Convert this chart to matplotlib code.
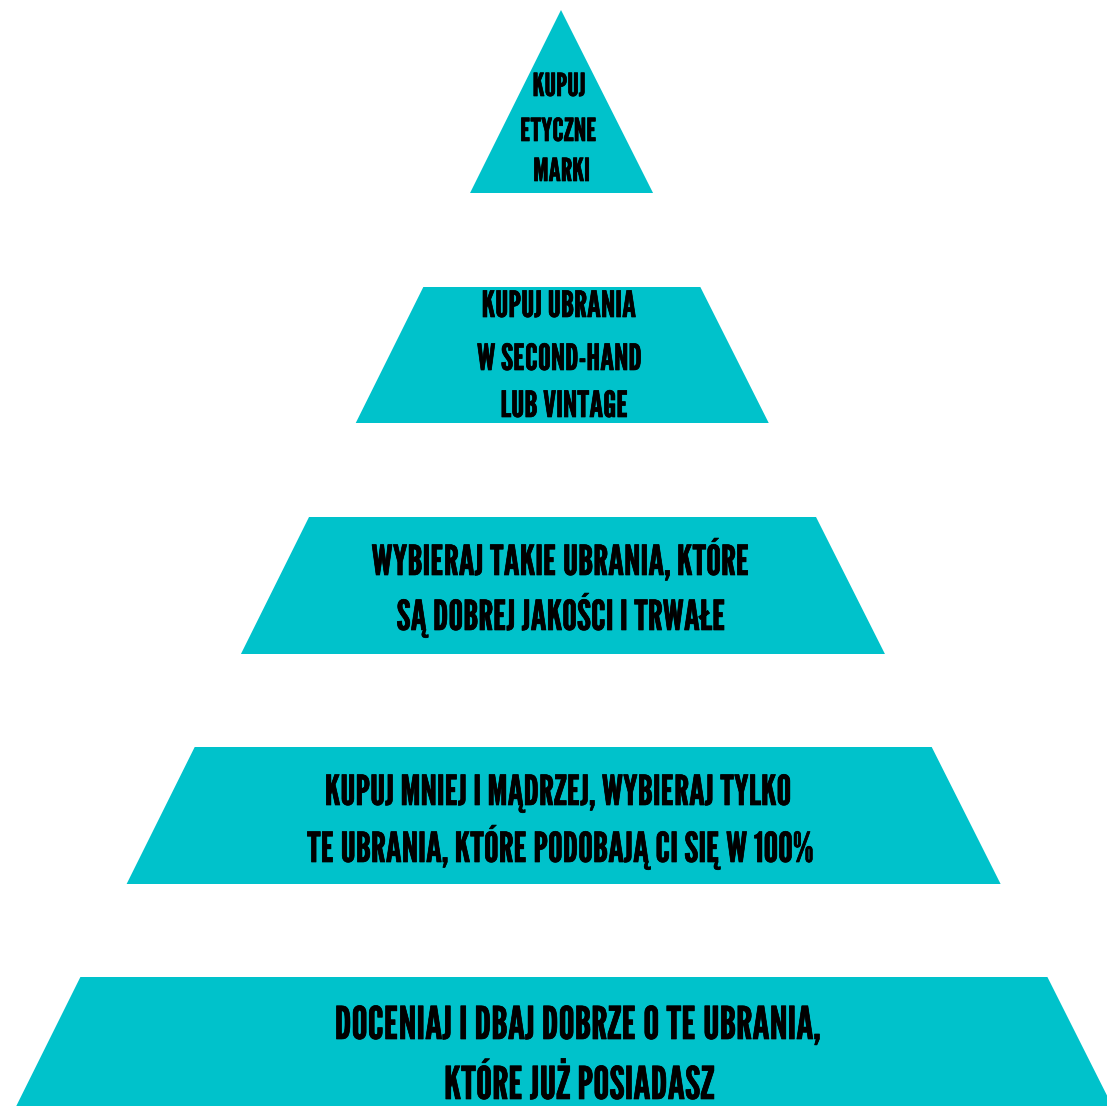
import matplotlib
matplotlib.use("Agg")
import matplotlib.pyplot as plt
from matplotlib.patches import Polygon
import matplotlib.patheffects as pe

# ---- data: pyramid levels (top to bottom), each with its text lines ----
level_lines = [
    ["KUPUJ", "ETYCZNE", "MARKI"],
    ["KUPUJ UBRANIA", "W SECOND-HAND", "LUB VINTAGE"],
    ["WYBIERAJ TAKIE UBRANIA, KTÓRE", "SĄ DOBREJ JAKOŚCI I TRWAŁE"],
    ["KUPUJ MNIEJ I MĄDRZEJ, WYBIERAJ TYLKO", "TE UBRANIA, KTÓRE PODOBAJĄ CI SIĘ W 100%"],
    ["DOCENIAJ I DBAJ DOBRZE O TE UBRANIA,", "KTÓRE JUŻ POSIADASZ"],
]

# ---- layout (pixels, figure coordinates from the top-left) ----
level_top = [10, 287, 517, 747, 977]
level_bottom = [193, 423, 654, 884, 1112]
line_baselines = [[96, 141, 181], [317, 370, 417], [575, 630], [805, 862], [1039, 1099]]
line_centers_x = [[559, 558.5, 561.5], [559, 559.5, 564.5], [560, 561], [557.5, 560], [577, 579]]
level_fontsize = [22.8, 26.0, 29.8, 29.8, 32.5]

apex_x, apex_y = 561, 10
slope_left, slope_right = 0.497, 0.503
color = "#00C2CB"

fig = plt.figure(figsize=(11.07, 11.06), dpi=100)
ax = fig.add_axes([0, 0, 1, 1])
ax.set_xlim(0, 1107)
ax.set_ylim(1106, 0)
ax.axis("off")

for lines, t, b, ys, xs, fs in zip(level_lines, level_top, level_bottom,
                                   line_baselines, line_centers_x, level_fontsize):
    tl = apex_x - slope_left * (t - apex_y)
    tr = apex_x + slope_right * (t - apex_y)
    bl = apex_x - slope_left * (b - apex_y)
    br = apex_x + slope_right * (b - apex_y)
    ax.add_patch(Polygon([(tl, t), (tr, t), (br, b), (bl, b)], closed=True,
                         facecolor=color, edgecolor="none"))
    for line, y, x in zip(lines, ys, xs):
        ax.text(x, y, line, ha="center", va="baseline", fontsize=fs,
                color="black", family=["League Gothic", "DejaVu Sans"],
                path_effects=[pe.withStroke(linewidth=0.5, foreground="black")])

fig.savefig("out.png", dpi=100)
